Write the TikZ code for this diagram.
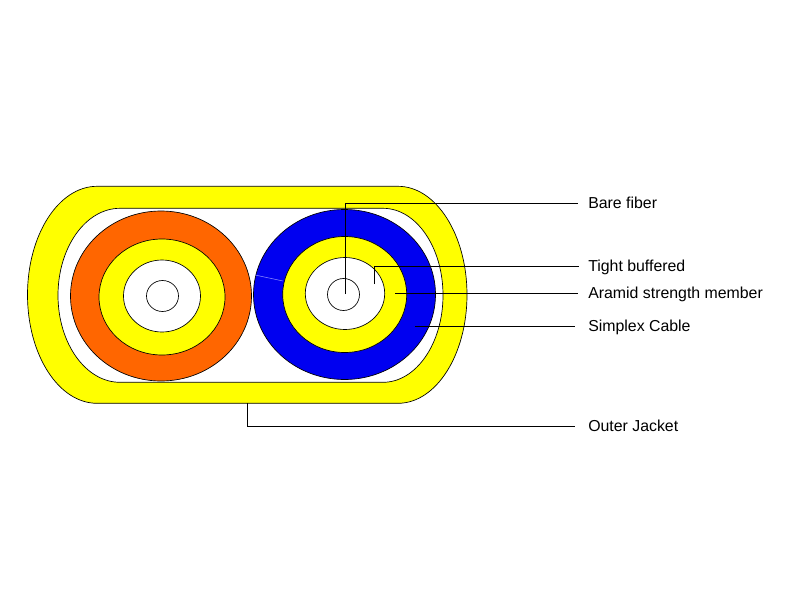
\documentclass[tikz,border=0pt]{standalone}
\usepackage{fontspec}
\setmainfont{Liberation Sans}
\definecolor{jacketyellow}{RGB}{255,255,0}
\definecolor{tuborange}{RGB}{255,102,0}
\definecolor{tubblue}{RGB}{0,0,240}
\tikzset{
    ring/.style={draw=black,line width=0.5pt},
    leader/.style={draw=black,line width=0.6pt},
    partlabel/.style={anchor=west,inner sep=0pt,text height=9.5pt,text depth=2pt,font=\fontsize{11.9pt}{13pt}\selectfont}
}

\begin{document}
\begin{tikzpicture}[x=0.75pt,y=-0.75pt]
    \useasboundingbox (0,0) rectangle (800,600);
    % outer jacket
    \draw[ring,fill=jacketyellow] (97,186.3) -- (398,186.3)
        arc[start angle=-90,delta angle=180,x radius=69,y radius=108.5] -- (97,403.3)
        arc[start angle=90,delta angle=180,x radius=69.5,y radius=108.5] -- cycle;
    \draw[ring,fill=white] (120,208.3) -- (383,208.3)
        arc[start angle=-90,delta angle=180,x radius=60,y radius=87] -- (120,382.3)
        arc[start angle=90,delta angle=180,x radius=62,y radius=87] -- cycle;
    % left simplex
    \draw[ring,fill=tuborange] (161,296) ellipse [x radius=90.5,y radius=85];
    \draw[ring,fill=jacketyellow] (162,297) ellipse [x radius=63,y radius=58];
    \draw[ring,fill=white] (162,296) ellipse [x radius=38.5,y radius=36];
    \draw[ring,fill=white] (162.5,296) ellipse [x radius=16,y radius=15.5];
    % right simplex
    \draw[ring,fill=tubblue] (344.5,294.5) ellipse [x radius=91,y radius=85];
    \draw[ring,fill=jacketyellow] (344.7,294.5) ellipse [x radius=62,y radius=58];
    \draw[ring,fill=white] (345,293.5) ellipse [x radius=39.7,y radius=36];
    \draw[ring,fill=white] (343.5,294.5) ellipse [x radius=16,y radius=16];
    \draw[blue!45!white,line width=0.4pt] (255,275) -- (283,281);
    % labels
    \node[partlabel] (bare) at (588,203) {Bare fiber};
    \node[partlabel] (tight) at (588,266.5) {Tight buffered};
    \node[partlabel] (aramid) at (588,293) {Aramid strength member};
    \node[partlabel] (simplex) at (588,326) {Simplex Cable};
    \node[partlabel] (jacket) at (588,426) {Outer Jacket};
    \coordinate (barestart) at (345,294);
    \coordinate (tightstart) at (374.5,284);
    \coordinate (aramidstart) at (395,293);
    \coordinate (simplexstart) at (415,326);
    \coordinate (jacketstart) at (247.5,403.3);
    \draw[leader,shorten >=7.5pt] (barestart) |- (bare);
    \draw[leader,shorten >=6.5pt] (tightstart) |- (tight);
    \draw[leader,shorten >=7.5pt] (aramidstart) -- (aramid);
    \draw[leader,shorten >=9.5pt] (simplexstart) -- (simplex);
    \draw[leader,shorten >=9.5pt] (jacketstart) |- (jacket);
\end{tikzpicture}
\end{document}
